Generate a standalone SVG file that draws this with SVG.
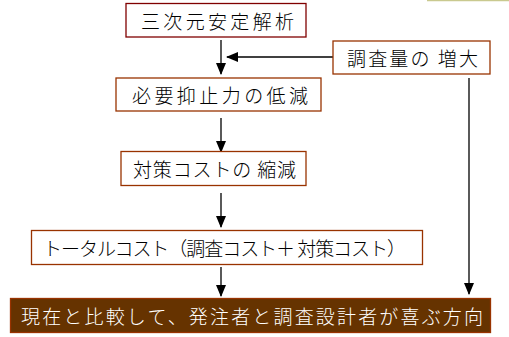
<svg xmlns="http://www.w3.org/2000/svg" width="509" height="337" viewBox="0 0 509 337">
<style>
.box{fill:#ffffff;stroke:#993300;stroke-width:1.3}
.t{font-family:"Noto Sans CJK JP","Noto Sans",sans-serif;font-size:19px;font-weight:300;fill:#000}
.w{fill:#ffffff}
.c{stroke:#000;stroke-width:1.3;fill:none;marker-end:url(#ah)}
</style>
<defs>
<marker id="ah" markerUnits="userSpaceOnUse" markerWidth="12" markerHeight="10" viewBox="0 0 12 10" refX="11" refY="5" orient="auto">
<path d="M0,0 L12,5 L0,10 Z" fill="#000"/>
</marker>
</defs>
<rect width="509" height="337" fill="#ffffff"/>
<line x1="427" y1="0.5" x2="509" y2="0.5" stroke="#c9c98f" stroke-width="1.5"/>
<g id="connectors">
<line class="c" x1="221" y1="40" x2="221" y2="74"/>
<line class="c" x1="333" y1="57" x2="227" y2="57"/>
<line class="c" x1="221" y1="118" x2="221" y2="152"/>
<line class="c" x1="221" y1="193" x2="221" y2="227"/>
<line class="c" x1="221" y1="267" x2="221" y2="296"/>
<line class="c" x1="469" y1="78" x2="469" y2="294"/>
</g>
<g id="n1">
<rect class="box" x="126" y="3.5" width="180" height="33.5" style="stroke:#800000"/>
<text class="t" x="141" y="29" textLength="153" lengthAdjust="spacing">三次元安定解析</text>
</g>
<g id="n2">
<rect class="box" x="333" y="41" width="157" height="33"/>
<text class="t" x="347" y="65.5" textLength="131" lengthAdjust="spacing">調査量の 増大</text>
</g>
<g id="n3">
<rect class="box" x="116" y="78" width="205" height="33"/>
<text class="t" x="132" y="103" textLength="176" lengthAdjust="spacing">必要抑止力の低減</text>
</g>
<g id="n4">
<rect class="box" x="121" y="151.5" width="185" height="34"/>
<text class="t" x="133" y="177" textLength="163" lengthAdjust="spacing">対策コストの 縮減</text>
</g>
<g id="n5">
<rect class="box" x="31.5" y="230.5" width="391" height="34"/>
<text class="t" x="43" y="256" textLength="363" lengthAdjust="spacing">トータルコスト（調査コスト＋ 対策コスト）</text>
</g>
<g id="n6">
<rect x="10.5" y="298.5" width="480" height="34" fill="#663300" stroke="#993300" stroke-width="1.3"/>
<text class="t w" x="21" y="324" textLength="462" lengthAdjust="spacing">現在と比較して、発注者と調査設計者が喜ぶ方向</text>
</g>
</svg>
